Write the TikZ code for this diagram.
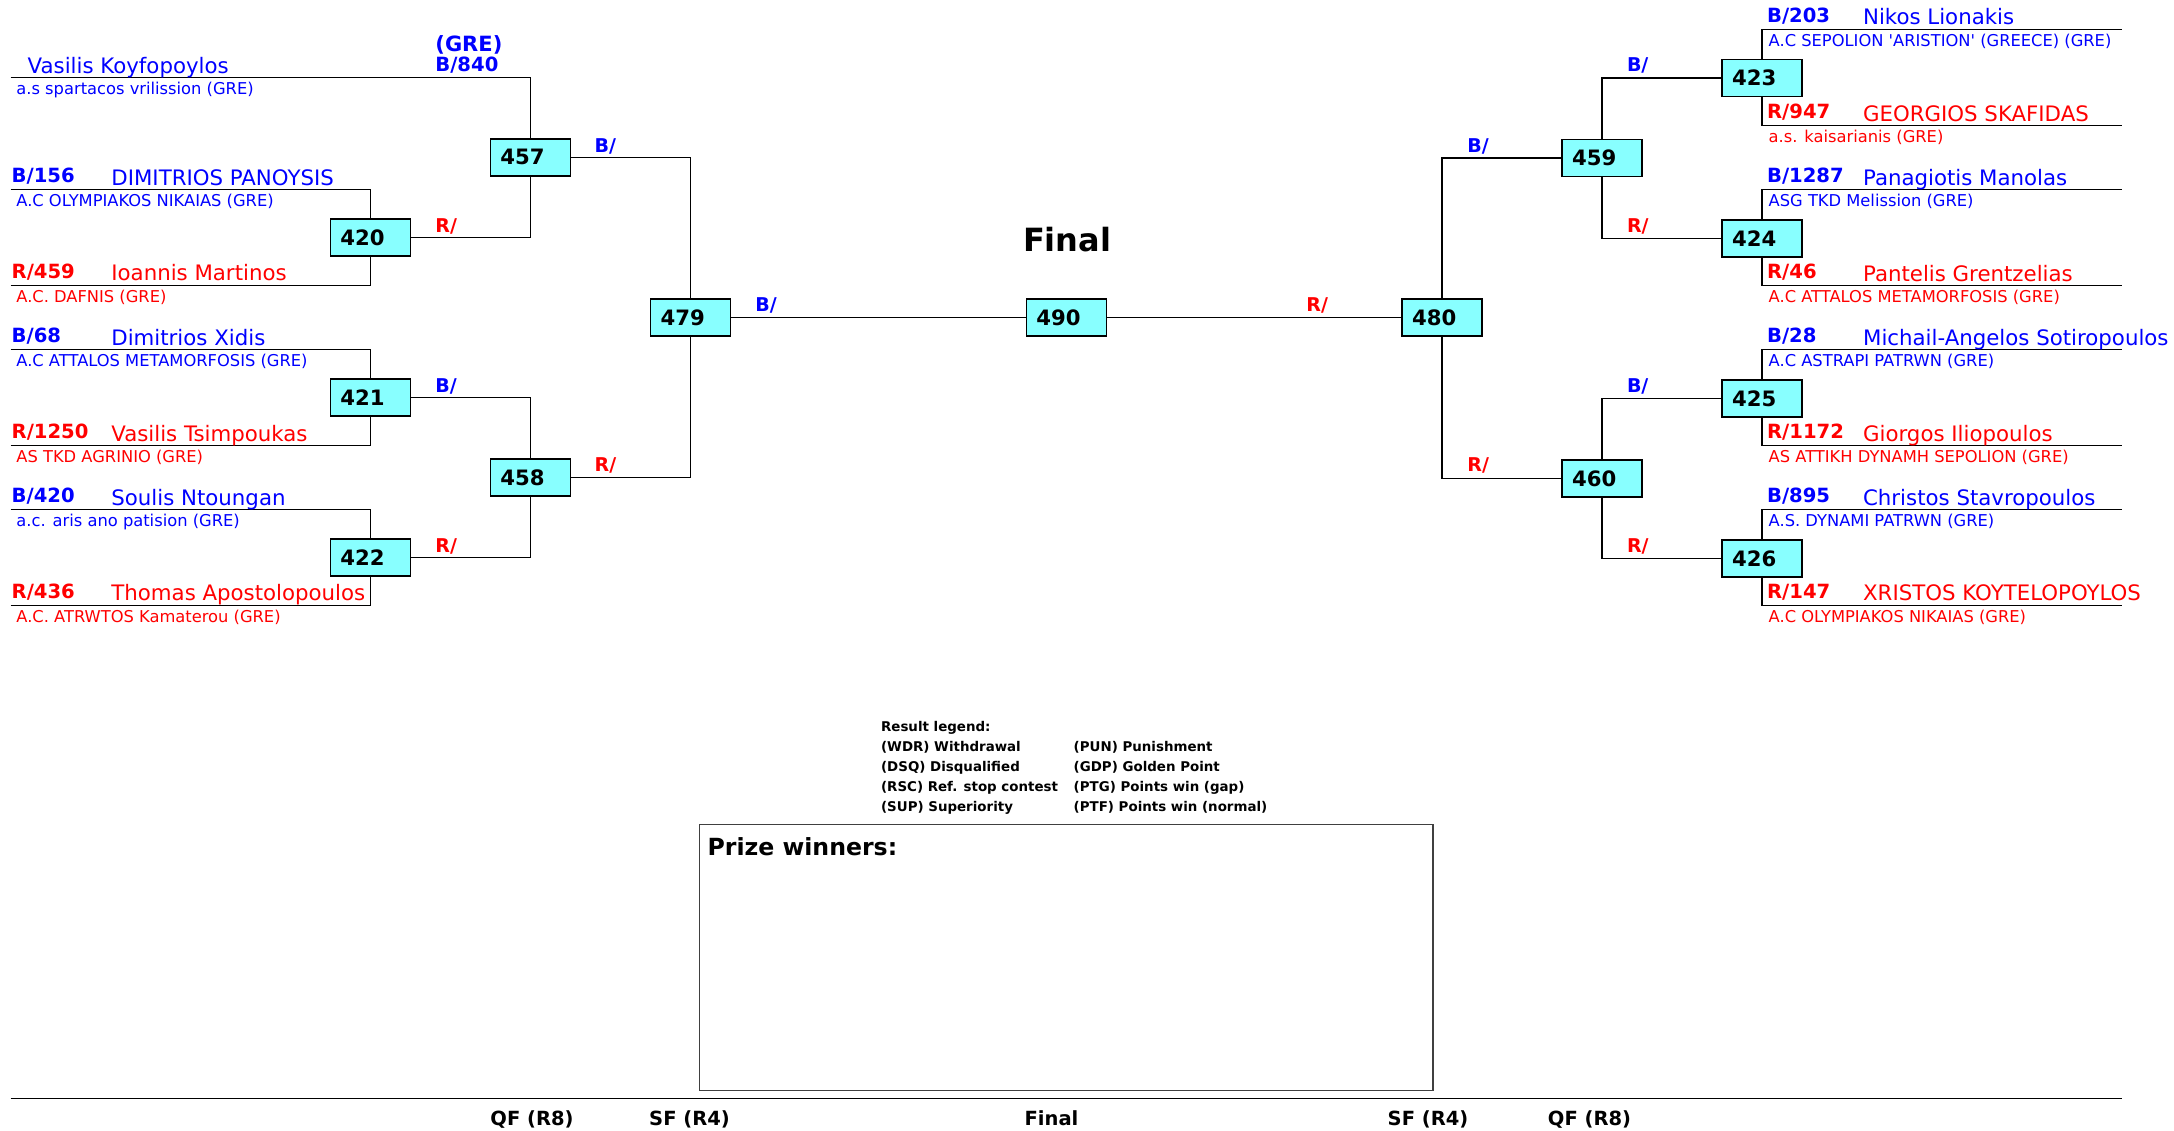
\documentclass[tikz,border=0pt]{standalone}
\usepackage{fontspec}
\setmainfont{DejaVu Sans}
\definecolor{boxcyan}{RGB}{136,255,255}
\definecolor{tblue}{RGB}{0,0,255}
\definecolor{tred}{RGB}{255,0,0}
\newcommand\szName{\fontsize{10.65pt}{12pt}\selectfont}
\newcommand\szId{\fontsize{9.8pt}{11pt}\selectfont\bfseries}
\newcommand\szClub{\fontsize{8.15pt}{9pt}\selectfont}
\newcommand\szBox{\fontsize{10.6pt}{12pt}\selectfont\bfseries}
\newcommand\szLab{\fontsize{9.5pt}{11pt}\selectfont\bfseries}
\newcommand\szLeg{\fontsize{6.7pt}{8pt}\selectfont\bfseries}
\newcommand\szRound{\fontsize{9.75pt}{11pt}\selectfont\bfseries}
% #1 tag, #2 colour, #3 x id, #4 x name, #5 x club, #6 line y, #7 id, #8 name, #9 club
\newcommand\bracketentry[9]{%
  \node[pid,#2] (id#1) at (#3,#6-7) {#7};
  \node[pname,#2] (nm#1) at (#4,#6-4.5) {#8};
  \node[pclub,#2] (cl#1) at (#5,#6+16.8) {#9};
}
\begin{document}
\begin{tikzpicture}[x=0.5pt,y=-0.5pt,
  mbox/.style={draw=black, line width=0.75pt, fill=boxcyan, minimum height=18.5pt,
    text width=30pt, inner xsep=5pt, inner ysep=0pt, align=left, font=\szBox},
  conn/.style={draw=black, line width=0.7pt},
  pname/.style={anchor=base west, inner sep=0pt, font=\szName},
  pid/.style={anchor=base west, inner sep=0pt, font=\szId},
  pclub/.style={anchor=base west, inner sep=0pt, font=\szClub},
  rlab/.style={anchor=base west, inner sep=0pt, font=\szLab},
  leg/.style={anchor=base west, inner sep=0pt, font=\szLeg},
  roundlab/.style={anchor=base, inner sep=0pt, font=\szRound},
]
\useasboundingbox (0,0) rectangle (2174,1130);

% ---------- boxes ----------
\node[mbox] (b420) at (370.4,237.6) {420};
\node[mbox] (b421) at (370.4,397.6) {421};
\node[mbox] (b422) at (370.4,557.6) {422};
\node[mbox] (b457) at (530.3,157.4) {457};
\node[mbox] (b458) at (530.3,477.6) {458};
\node[mbox] (b479) at (690.5,317.5) {479};
\node[mbox] (b490) at (1066.3,317.5) {490};
\node[mbox] (b480) at (1442,317.5) {480};
\node[mbox] (b459) at (1602,158) {459};
\node[mbox] (b460) at (1602,478.5) {460};
\node[mbox] (b423) at (1762,78) {423};
\node[mbox] (b424) at (1762,238.5) {424};
\node[mbox] (b425) at (1762,398.5) {425};
\node[mbox] (b426) at (1762,558.5) {426};

% ---------- line coordinates ----------
\coordinate (ls1) at (10.7,77.5);
\coordinate (ls2) at (10.7,189.6);
\coordinate (ls3) at (10.7,285.4);
\coordinate (ls4) at (10.7,349.7);
\coordinate (ls5) at (10.7,445.7);
\coordinate (ls6) at (10.7,509.7);
\coordinate (ls7) at (10.7,605.3);
\coordinate (re1) at (2122,29.3);
\coordinate (re2) at (2122,125.5);
\coordinate (re3) at (2122,189.7);
\coordinate (re4) at (2122,285.7);
\coordinate (re5) at (2122,349.7);
\coordinate (re6) at (2122,445.7);
\coordinate (re7) at (2122,509.7);
\coordinate (re8) at (2122,605.3);

% ---------- connectors ----------
\draw[conn] (ls1) -| (b457.north);
\draw[conn] (ls2) -| (b420.north);
\draw[conn] (ls3) -| (b420.south);
\draw[conn] (ls4) -| (b421.north);
\draw[conn] (ls5) -| (b421.south);
\draw[conn] (ls6) -| (b422.north);
\draw[conn] (ls7) -| (b422.south);
\draw[conn] (b420.east) -| (b457.south);
\draw[conn] (b421.east) -| (b458.north);
\draw[conn] (b422.east) -| (b458.south);
\draw[conn] (b457.east) -| (b479.north);
\draw[conn] (b458.east) -| (b479.south);
\draw[conn] (b479.east) -- (b490.west);
\draw[conn] (b490.east) -- (b480.west);
\draw[conn] (b480.north) |- (b459.west);
\draw[conn] (b480.south) |- (b460.west);
\draw[conn] (b459.north) |- (b423.west);
\draw[conn] (b459.south) |- (b424.west);
\draw[conn] (b460.north) |- (b425.west);
\draw[conn] (b460.south) |- (b426.west);
\draw[conn] (b423.north) |- (re1);
\draw[conn] (b423.south) |- (re2);
\draw[conn] (b424.north) |- (re3);
\draw[conn] (b424.south) |- (re4);
\draw[conn] (b425.north) |- (re5);
\draw[conn] (b425.south) |- (re6);
\draw[conn] (b426.north) |- (re7);
\draw[conn] (b426.south) |- (re8);

% ---------- left entries ----------
\node[pname,tblue] (nm1) at (27.3,73.1) {Vasilis Koyfopoylos};
\node[pclub,tblue] (cl1) at (16,94.3) {a.s spartacos vrilission (GRE)};
\node[pid,tblue,font=\fontsize{10.5pt}{12pt}\selectfont\bfseries] (gre1) at (435,51) {(GRE)};
\node[pid,tblue] (id1) at (435,71) {B/840};
\bracketentry{2}{tblue}{11.3}{111}{16}{189.6}{B/156}{DIMITRIOS PANOYSIS}{A.C OLYMPIAKOS NIKAIAS (GRE)}
\bracketentry{3}{tred}{11.3}{111}{16}{285.4}{R/459}{Ioannis Martinos}{A.C. DAFNIS (GRE)}
\bracketentry{4}{tblue}{11.3}{111}{16}{349.7}{B/68}{Dimitrios Xidis}{A.C ATTALOS METAMORFOSIS (GRE)}
\bracketentry{5}{tred}{11.3}{111}{16}{445.7}{R/1250}{Vasilis Tsimpoukas}{AS TKD AGRINIO (GRE)}
\bracketentry{6}{tblue}{11.3}{111}{16}{509.7}{B/420}{Soulis Ntoungan}{a.c. aris ano patision (GRE)}
\bracketentry{7}{tred}{11.3}{111}{16}{605.3}{R/436}{Thomas Apostolopoulos}{A.C. ATRWTOS Kamaterou (GRE)}

% ---------- right entries ----------
\bracketentry{r1}{tblue}{1766.7}{1862.7}{1768.3}{29.3}{B/203}{Nikos Lionakis}{A.C SEPOLION \textquotesingle ARISTION\textquotesingle\ (GREECE) (GRE)}
\bracketentry{r2}{tred}{1766.7}{1862.7}{1768.3}{125.5}{R/947}{GEORGIOS SKAFIDAS}{a.s. kaisarianis (GRE)}
\bracketentry{r3}{tblue}{1766.7}{1862.7}{1768.3}{189.7}{B/1287}{Panagiotis Manolas}{ASG TKD Melission (GRE)}
\bracketentry{r4}{tred}{1766.7}{1862.7}{1768.3}{285.7}{R/46}{Pantelis Grentzelias}{A.C ATTALOS METAMORFOSIS (GRE)}
\bracketentry{r5}{tblue}{1766.7}{1862.7}{1768.3}{349.7}{B/28}{Michail-Angelos Sotiropoulos}{A.C ASTRAPI PATRWN (GRE)}
\bracketentry{r6}{tred}{1766.7}{1862.7}{1768.3}{445.7}{R/1172}{Giorgos Iliopoulos}{AS ATTIKH DYNAMH SEPOLION (GRE)}
\bracketentry{r7}{tblue}{1766.7}{1862.7}{1768.3}{509.7}{B/895}{Christos Stavropoulos}{A.S. DYNAMI PATRWN (GRE)}
\bracketentry{r8}{tred}{1766.7}{1862.7}{1768.3}{605.3}{R/147}{XRISTOS KOYTELOPOYLOS}{A.C OLYMPIAKOS NIKAIAS (GRE)}

% ---------- match result labels ----------
\node[rlab,tred]  (lab420) at (435,232) {R/};
\node[rlab,tblue] (lab421) at (435,392) {B/};
\node[rlab,tred]  (lab422) at (435,552) {R/};
\node[rlab,tblue] (lab457) at (594.3,152) {B/};
\node[rlab,tred]  (lab458) at (594.3,471.5) {R/};
\node[rlab,tblue] (lab479) at (755,311.5) {B/};
\node[rlab,tred]  (lab480) at (1306,311.5) {R/};
\node[rlab,tblue] (lab459) at (1467,152) {B/};
\node[rlab,tred]  (lab460) at (1467,471.5) {R/};
\node[rlab,tblue] (lab423) at (1626.6,71.5) {B/};
\node[rlab,tred]  (lab424) at (1626.6,232) {R/};
\node[rlab,tblue] (lab425) at (1626.6,392) {B/};
\node[rlab,tred]  (lab426) at (1626.6,552) {R/};

% ---------- titles ----------
\node[anchor=base, inner sep=0pt, font=\fontsize{16pt}{18pt}\selectfont\bfseries] (final) at (1067.2,251.7) {Final};

% ---------- legend ----------
\node[leg] (lg0) at (880.7,731.7) {Result legend:};
\node[leg] (lg1) at (880.7,751.7) {(WDR) Withdrawal};
\node[leg] (lg2) at (880.7,771.7) {(DSQ) Disqualified};
\node[leg] (lg3) at (880.7,791.7) {(RSC) Ref. stop contest};
\node[leg] (lg4) at (880.7,811.7) {(SUP) Superiority};
\node[leg] (lg5) at (1073.3,751.7) {(PUN) Punishment};
\node[leg] (lg6) at (1073.3,771.7) {(GDP) Golden Point};
\node[leg] (lg7) at (1073.3,791.7) {(PTG) Points win (gap)};
\node[leg] (lg8) at (1073.3,811.7) {(PTF) Points win (normal)};

% ---------- prize winners ----------
\draw[draw=black!75, line width=0.75pt] (699.5,824.3) rectangle (1433,1090.7);
\node[anchor=base west, inner sep=0pt, font=\fontsize{11.8pt}{13pt}\selectfont\bfseries] (prize) at (707.2,855) {Prize winners:};

% ---------- bottom round labels ----------
\coordinate (bl1) at (10.7,1098.3);
\coordinate (bl2) at (2122,1098.3);
\draw[conn] (bl1) -- (bl2);
\node[roundlab] (rqf1) at (532,1125) {QF (R8)};
\node[roundlab] (rsf1) at (689.5,1125) {SF (R4)};
\node[roundlab] (rfin) at (1051.5,1125) {Final};
\node[roundlab] (rsf2) at (1428,1125) {SF (R4)};
\node[roundlab] (rqf2) at (1589.5,1125) {QF (R8)};
\end{tikzpicture}
\end{document}
